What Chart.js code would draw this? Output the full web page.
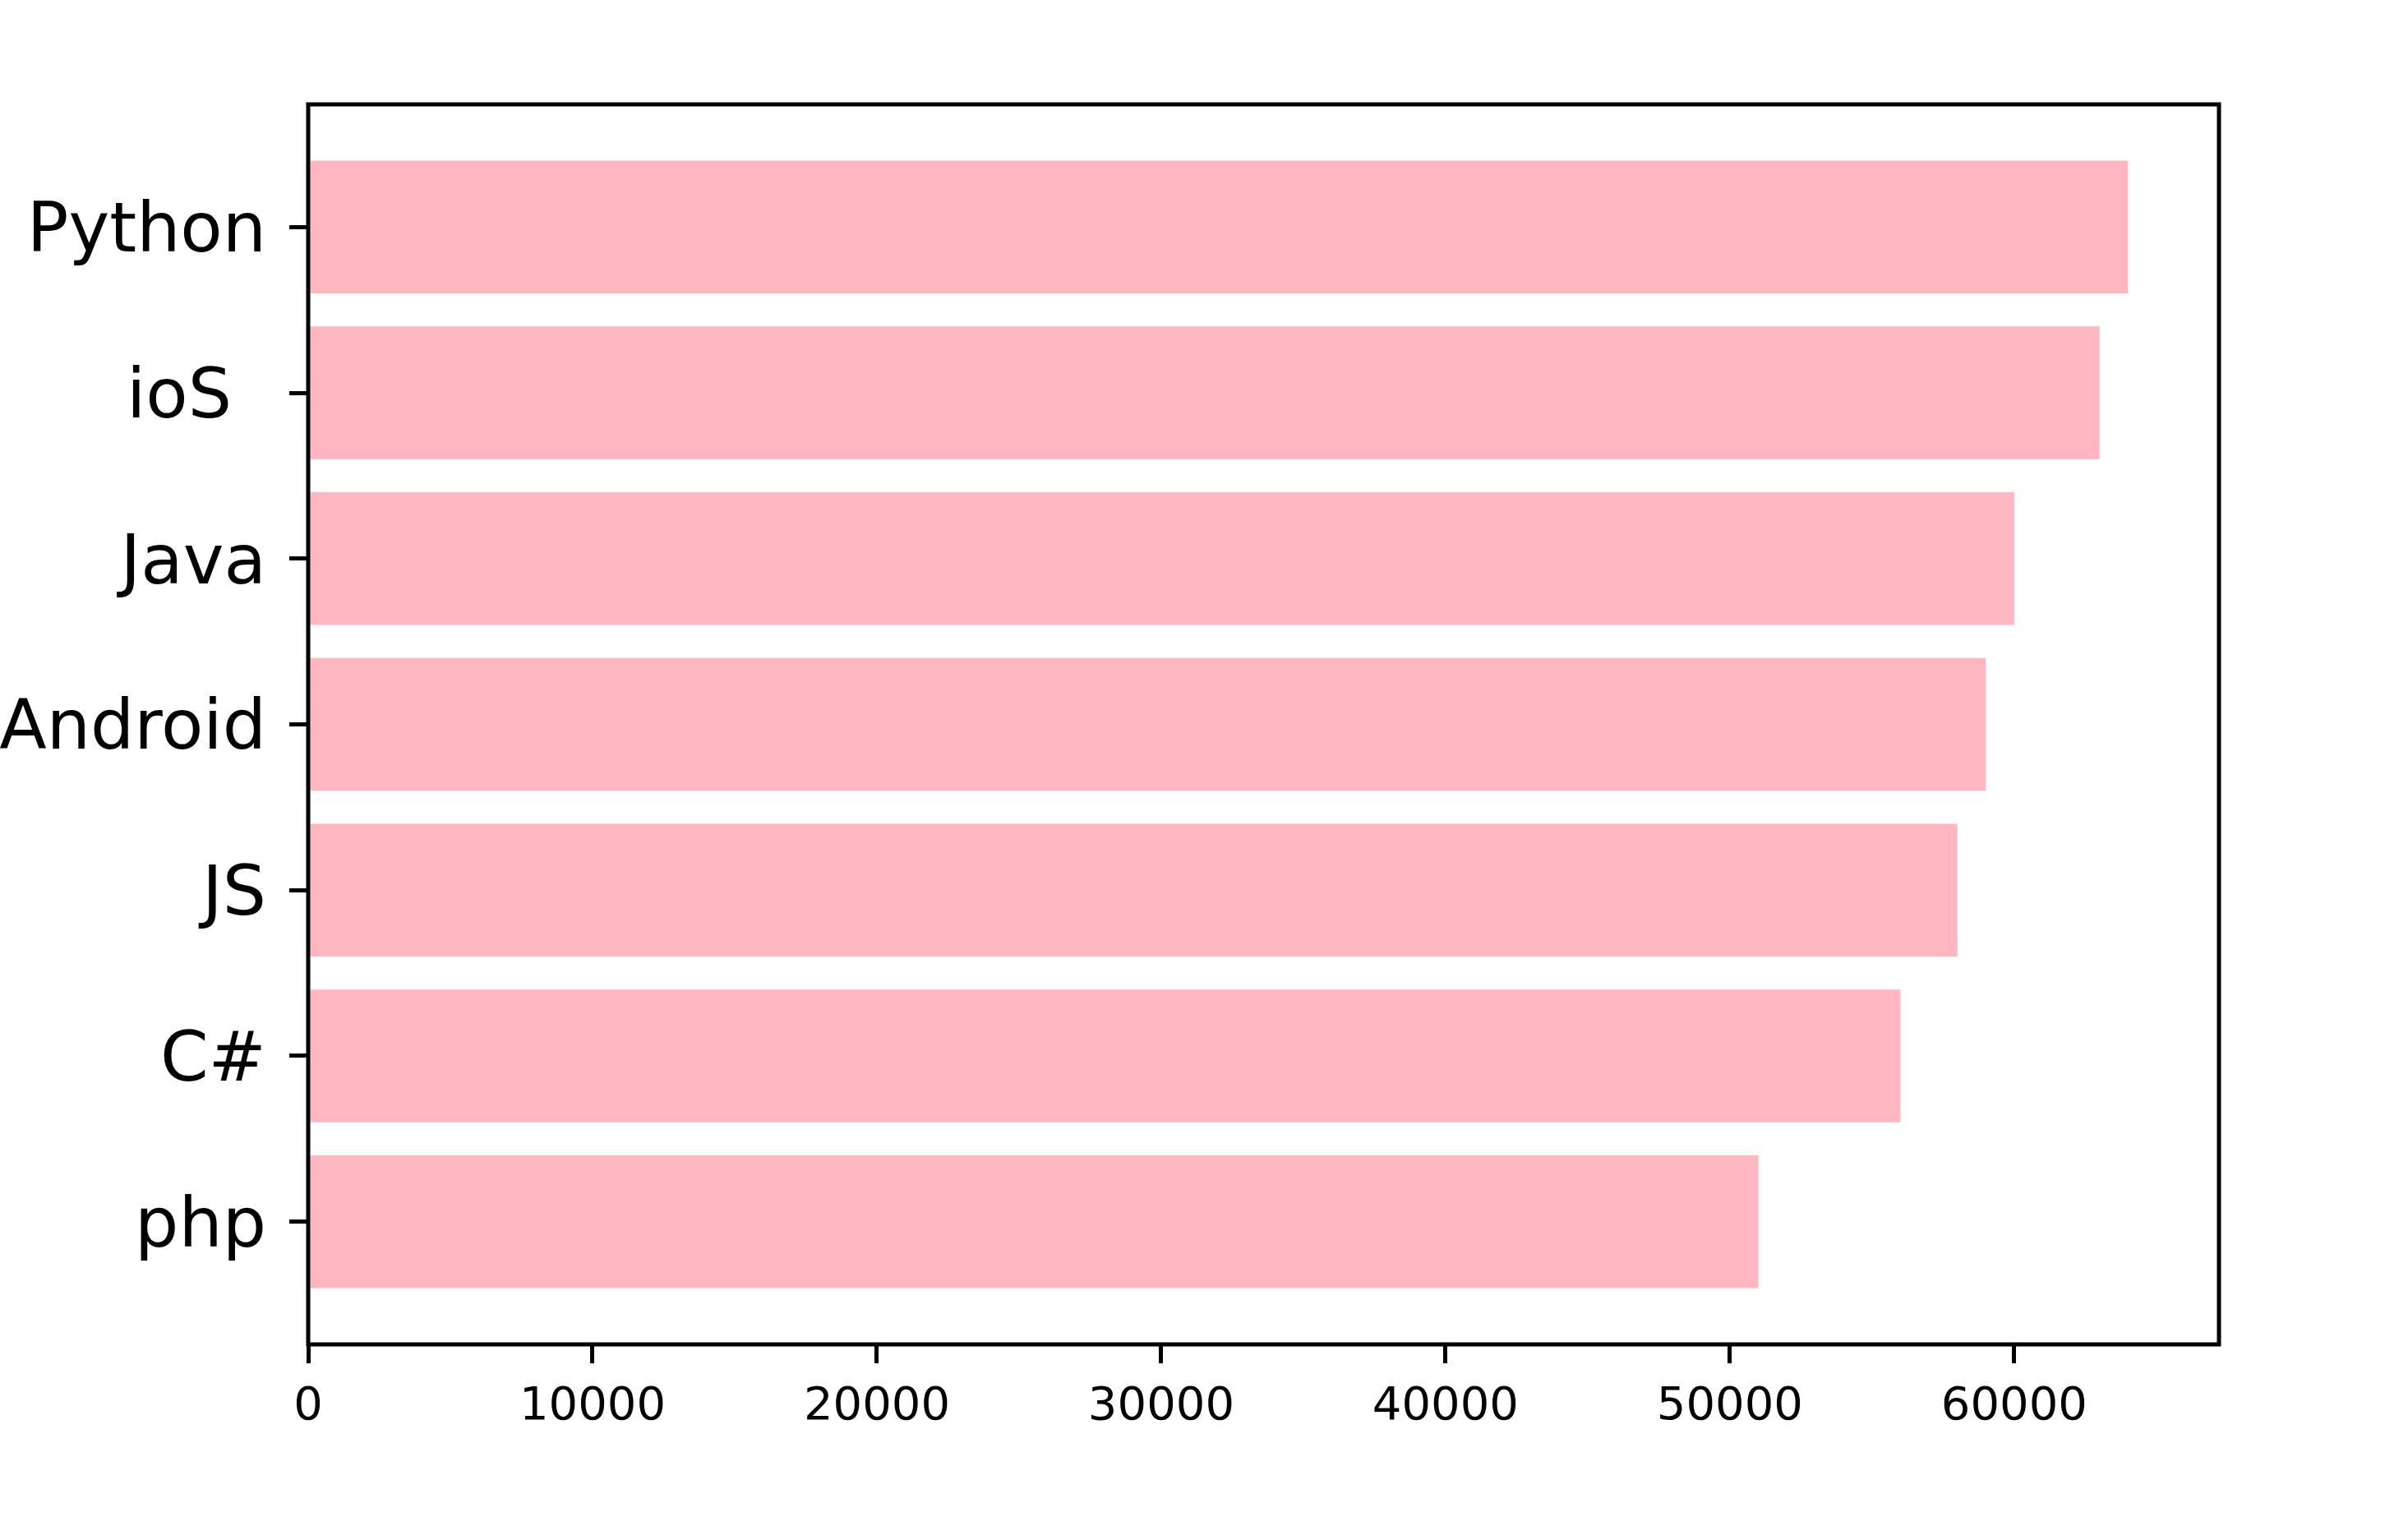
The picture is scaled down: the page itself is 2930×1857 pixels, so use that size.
<!DOCTYPE html>
<html>
<head>
<meta charset="utf-8">
<script src="https://cdn.jsdelivr.net/npm/chart.js@4/dist/chart.umd.min.js"></script>
<style>
  html, body { margin: 0; padding: 0; background: #ffffff; }
  #wrap { width: 2930px; height: 1857px; }
  canvas { display: block; }
</style>
</head>
<body>
<div id="wrap"><canvas id="c" width="2930" height="1857"></canvas></div>
<script>
// ---- data ----
const categories = ["Python", "ioS\u2002", "Java", "Android", "JS", "C#", "php"];
const salaries = [64000, 63000, 60000, 59000, 58000, 56000, 51000];
const xTickValues = [0, 10000, 20000, 30000, 40000, 50000, 60000];

const barColor = "#FFB6C1";
const fontFamily = "'DejaVu Sans', 'Liberation Sans', sans-serif";

const framePlugin = {
  id: "frame",
  afterDatasetsDraw(chart) {
    const a = chart.chartArea;
    const ctx = chart.ctx;
    ctx.save();
    ctx.strokeStyle = "#000000";
    ctx.lineWidth = 5;
    ctx.strokeRect(a.left, a.top, a.right - a.left, a.bottom - a.top);
    ctx.restore();
  }
};

new Chart(document.getElementById("c"), {
  type: "bar",
  data: {
    datasets: [{
      data: salaries.map((v, i) => ({ x: v, y: i })),
      backgroundColor: barColor,
      borderWidth: 0,
      barPercentage: 0.8,
      categoryPercentage: 1.0
    }]
  },
  options: {
    indexAxis: "y",
    responsive: false,
    animation: false,
    devicePixelRatio: 1,
    layout: { padding: { top: 127, right: 230, left: 0, bottom: 0 } },
    plugins: { legend: { display: false }, tooltip: { enabled: false }, title: { display: false } },
    scales: {
      x: {
        type: "linear",
        position: "bottom",
        min: 0,
        max: 67200,
        offset: false,
        afterBuildTicks(scale) { scale.ticks = xTickValues.map(v => ({ value: v })); },
        afterFit(scale) { scale.height = 221; },
        grid: { display: true, offset: false, drawOnChartArea: false, drawTicks: true, tickLength: 23, color: "#000000", lineWidth: 5 },
        border: { display: false },
        ticks: {
          autoSkip: false, maxRotation: 0, padding: 20, color: "#000000",
          font: { family: fontFamily, size: 56 },
          callback: (v) => String(v)
        }
      },
      y: {
        type: "linear",
        position: "left",
        reverse: true,
        min: -0.74,
        max: 6.74,
        offset: false,
        afterBuildTicks(scale) { scale.ticks = categories.map((_, i) => ({ value: i })); },
        afterFit(scale) { scale.width = 375; },
        grid: { display: true, offset: false, drawOnChartArea: false, drawTicks: true, tickLength: 23, color: "#000000", lineWidth: 5 },
        border: { display: false },
        ticks: {
          autoSkip: false, padding: 28, labelOffset: 8, color: "#000000",
          font: { family: fontFamily, size: 84 },
          callback: (v) => categories[v]
        }
      }
    }
  },
  plugins: [framePlugin]
});
</script>
</body>
</html>
